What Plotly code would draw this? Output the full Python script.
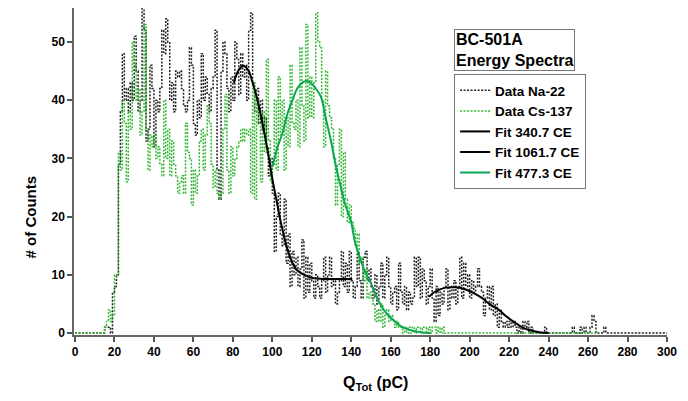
import plotly.graph_objects as go

FONT = "Liberation Sans, Arial, sans-serif"

# histogram counts, 1 pC bins starting at 0 pC
na22_counts = [
    0, 0, 0, 0, 0, 0, 0, 0, 0, 0,
    0, 0, 0, 0, 0, 1, 1, 1, 0, 7,
    8, 10, 29, 38, 48, 40, 42, 38, 43, 40,
    51, 45, 38, 40, 56, 52, 33, 35, 46, 42,
    32, 40, 38, 42, 52, 48, 54, 50, 40, 43,
    38, 45, 44, 45, 42, 39, 38, 40, 49, 46,
    36, 34, 40, 37, 48, 40, 44, 41, 38, 42,
    44, 52, 28, 23, 45, 50, 48, 42, 38, 44,
    40, 50, 47, 41, 48, 44, 46, 40, 52, 55,
    43, 38, 42, 36, 40, 35, 37, 32, 27, 30,
    24, 14, 20, 24, 17, 15, 23, 12, 17, 8,
    14, 10, 13, 8, 11, 16, 6, 13, 7, 12,
    9, 6, 10, 8, 6, 9, 13, 7, 10, 13,
    8, 9, 5, 7, 9, 14, 8, 12, 7, 14,
    9, 6, 8, 14, 9, 6, 13, 14, 9, 11,
    8, 6, 10, 5, 8, 12, 6, 10, 13, 8,
    5, 7, 8, 4, 12, 7, 5, 8, 4, 7,
    5, 6, 13, 8, 13, 6, 11, 9, 5, 8,
    11, 6, 2, 8, 3, 7, 5, 8, 11, 4,
    8, 6, 9, 5, 8, 13, 6, 12, 8, 10,
    6, 9, 7, 8, 11, 8, 7, 3, 6, 8,
    4, 8, 3, 5, 1, 4, 2, 1, 2, 1,
    2, 1, 2, 1, 0, 1, 0, 2, 1, 2,
    0, 1, 0, 0, 0, 0, 0, 0, 1, 0,
    0, 0, 0, 0, 0, 0, 0, 0, 0, 0,
    0, 0, 1, 0, 0, 0, 1, 0, 1, 0,
    0, 1, 3, 2, 0, 0, 0, 0, 1, 0,
    0, 0, 0, 0, 0, 0, 0, 0, 0, 0,
    0, 0, 0, 0, 0, 0, 0, 0, 0, 0,
    0, 0, 0, 0, 0, 0, 0, 0, 0, 0,
]

cs137_counts = [
    0, 0, 0, 0, 0, 0, 0, 0, 0, 0,
    0, 0, 0, 0, 0, 1, 2, 4, 2, 3,
    10, 10, 31, 28, 40, 36, 26, 38, 35, 50,
    46, 40, 42, 34, 38, 53, 35, 28, 34, 32,
    34, 30, 32, 29, 27, 40, 30, 35, 27, 33,
    29, 27, 24, 26, 27, 24, 36, 31, 30, 22,
    28, 24, 27, 33, 35, 28, 34, 39, 36, 29,
    25, 28, 24, 23, 24, 35, 41, 28, 24, 32,
    27, 30, 32, 33, 35, 33, 35, 34, 35, 24,
    43, 23, 40, 36, 26, 38, 31, 47, 33, 26,
    29, 40, 28, 44, 34, 40, 28, 37, 32, 46,
    36, 35, 40, 32, 49, 39, 33, 53, 37, 44,
    37, 43, 55, 50, 49, 40, 32, 45, 39, 37,
    35, 30, 22, 29, 35, 20, 31, 23, 19, 22,
    19, 18, 15, 17, 12, 13, 9, 11, 6, 7,
    6, 5, 2, 4, 2, 5, 1, 3, 4, 2,
    3, 2, 1, 2, 1, 1, 0, 1, 0, 1,
    0, 1, 0, 1, 1, 0, 1, 1, 0, 1,
    0, 1, 1, 0, 1, 0, 1, 0, 0, 0,
    0, 0, 0, 0, 0, 0, 0, 0, 0, 0,
    0, 0, 0, 0, 0, 0, 0, 0, 0, 0,
    0, 0, 0, 0, 0, 0, 0, 0, 0, 0,
    0, 0, 0, 0, 0, 0, 0, 0, 0, 0,
    0, 0, 0, 0, 0, 0, 0, 0, 0, 0,
    0, 0, 0, 0, 0, 0, 0, 0, 0, 0,
    0, 0, 0, 0, 0, 0, 0, 0, 0, 0,
    0, 0, 0, 0, 0,
]

# fitted curves
fit_340_x = [80.5, 83, 85.4, 88, 90, 92.5, 95, 97.6, 100, 102, 104, 106, 108, 110,
             112, 115, 118, 121, 125, 130, 135, 140.5]
fit_340_y = [43, 45.2, 45.9, 45, 43, 40, 36, 31.4, 26.5, 23, 19.5, 16.5, 14, 12.2,
             11, 10.2, 9.7, 9.4, 9.3, 9.3, 9.3, 9.3]

fit_1061_x = [179.4, 182, 185, 188, 192.9, 197, 200, 203, 206.4, 210, 214.8, 218,
              223.3, 228.4, 232, 236, 240]
fit_1061_y = [6.2, 7.0, 7.5, 7.8, 7.85, 7.6, 7.2, 6.7, 6.0, 5.0, 4.0, 3.0,
              1.7, 0.7, 0.35, 0.1, 0]

fit_477_x = [100.1, 102.5, 105.2, 107.5, 110.2, 113, 117, 119.5, 122, 124.6, 127,
             129.6, 132, 134.7, 137, 139.7, 142, 144.8, 147, 149.9, 152, 154.9,
             158, 161.5, 165, 170, 175, 180.3]
fit_477_y = [28.6, 31.8, 34.4, 37.5, 40, 42.2, 43.3, 43, 42, 40.6, 37,
             33.2, 29, 25.1, 22, 19.4, 15.5, 12.5, 10.5, 8.6, 6.8, 4.8,
             3.3, 2.2, 1.2, 0.5, 0.15, 0]


def steps(counts):
    edges = list(range(len(counts) + 1))
    return edges, counts + [counts[-1]]


DOTS = "2px,1.5px"

fig = go.Figure()

x, y = steps(na22_counts)
fig.add_trace(go.Scatter(x=x, y=y, name="Data Na-22", mode="lines", line_shape="hv",
                         line=dict(color="#222222", width=1.5, dash=DOTS)))
x, y = steps(cs137_counts)
fig.add_trace(go.Scatter(x=x, y=y, name="Data Cs-137", mode="lines", line_shape="hv",
                         line=dict(color="#33b833", width=1.5, dash=DOTS)))
fig.add_trace(go.Scatter(x=fit_340_x, y=fit_340_y, name="Fit 340.7 CE", mode="lines",
                         line_shape="spline", line=dict(color="black", width=2)))
fig.add_trace(go.Scatter(x=fit_1061_x, y=fit_1061_y, name="Fit 1061.7 CE", mode="lines",
                         line_shape="spline", line=dict(color="black", width=2)))
fig.add_trace(go.Scatter(x=fit_477_x, y=fit_477_y, name="Fit 477.3 CE", mode="lines",
                         line_shape="spline", line=dict(color="#0aa654", width=2)))

axis_style = dict(showline=True, linecolor="#666666", linewidth=1.5, showgrid=False,
                  zeroline=False, ticks="outside", ticklen=5, tickwidth=1.5,
                  tickcolor="#555555",
                  tickfont=dict(family=FONT, size=12, color="black", weight="bold"))

fig.update_xaxes(range=[-0.5, 300], dtick=20, tick0=0, **axis_style)
fig.update_yaxes(range=[-0.34, 55.84], dtick=10, tick0=0, **axis_style)

title_font = dict(family=FONT, size=15, color="black", weight="bold")
# axis titles as annotations so they sit where the original has them
fig.add_annotation(text="Q<sub>Tot</sub> (pC)", xref="paper", yref="paper",
                   x=0.508, y=-0.147, xanchor="center", yanchor="middle",
                   showarrow=False, font=dict(family=FONT, size=16, color="black", weight="bold"))
fig.add_annotation(text="# of Counts", xref="paper", yref="paper", textangle=-90,
                   x=-0.074, y=0.36, xanchor="center", yanchor="middle",
                   showarrow=False, font=title_font)

fig.add_annotation(text="BC-501A<br>Energy Spectra", xref="paper", yref="paper",
                   x=0.641, y=0.936, xanchor="left", yanchor="top", showarrow=False,
                   align="left", bordercolor="#777777", borderwidth=1, borderpad=1,
                   font=dict(family=FONT, size=16, color="black", weight="bold"))

# the page adds an 8 px body margin, so the figure is 8 px smaller
fig.update_layout(
    width=680, height=393,
    margin=dict(l=66, r=21, t=0, b=66),
    paper_bgcolor="white", plot_bgcolor="white",
    font=dict(family=FONT, color="black"),
    showlegend=True,
    legend=dict(x=0.641, y=0.798, xanchor="left", yanchor="top",
                bordercolor="#777777", borderwidth=1, bgcolor="white",
                font=dict(family=FONT, size=13.5, color="black", weight="bold"),
                itemwidth=30, tracegroupgap=0),
)

fig.write_html("out.html")
